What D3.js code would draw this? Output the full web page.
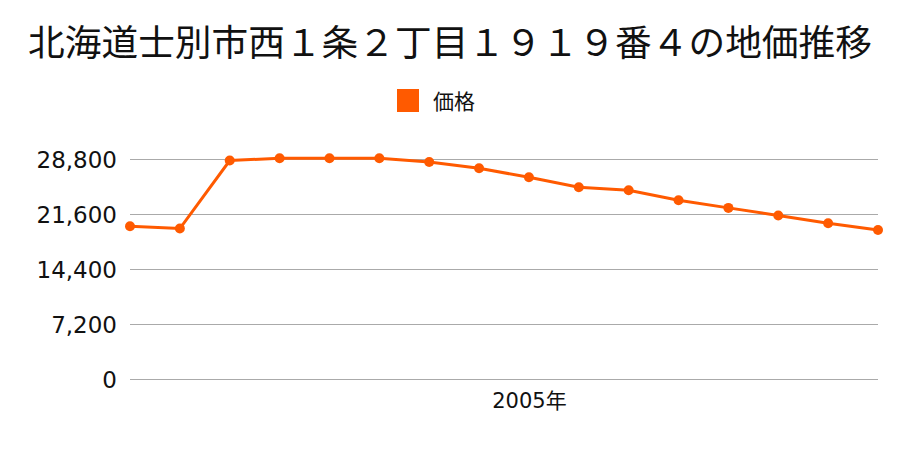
<!DOCTYPE html>
<html>
<head>
<meta charset="utf-8">
<script src="https://cdn.jsdelivr.net/npm/d3@7"></script>
<style>
  body { margin: 0; background: #fff; }
  text { font-family: "DejaVu Sans", "Noto Sans CJK JP", sans-serif; fill: #111; }
  .cjk { font-family: "Noto Sans CJK JP", sans-serif; }
</style>
</head>
<body>
<script>
// data
const years = [1997, 1998, 1999, 2000, 2001, 2002, 2003, 2004, 2005, 2006, 2007, 2008, 2009, 2010, 2011, 2012];
const prices = [20000, 19700, 28600, 28900, 28900, 28900, 28400, 27600, 26400, 25100, 24700, 23400, 22400, 21400, 20400, 19500];
const yTicks = [0, 7200, 14400, 21600, 28800];
const xLabelYears = [2005];
const title = "北海道士別市西１条２丁目１９１９番４の地価推移";
const seriesName = "価格";

const W = 900, H = 450;
const MARGIN = {top: 159, right: 22, bottom: 71, left: 130};
const color = "#ff5a00";

const svg = d3.select("body").append("svg")
    .attr("width", W)
    .attr("height", H);

// title
svg.append("text")
    .attr("class", "cjk")
    .attr("x", W / 2)
    .attr("y", 56)
    .attr("text-anchor", "middle")
    .style("font-size", "36.7px")
    .text(title);

// legend
svg.append("rect")
    .attr("x", 397).attr("y", 89)
    .attr("width", 22).attr("height", 23)
    .attr("fill", color);
svg.append("text")
    .attr("class", "cjk")
    .attr("x", 433).attr("y", 109)
    .style("font-size", "21px")
    .text(seriesName);

const x = d3.scalePoint()
    .domain(years)
    .range([MARGIN.left, W - MARGIN.right]);

const y = d3.scaleLinear()
    .domain([0, 28800])
    .range([H - MARGIN.bottom, MARGIN.top]);

// gridlines + y labels
const yAxis = svg.append("g")
    .attr("transform", `translate(${MARGIN.left},0)`)
    .call(d3.axisLeft(y)
        .tickValues(yTicks)
        .tickSize(-(W - MARGIN.left - MARGIN.right))
        .tickPadding(13)
        .tickFormat(d3.format(",")));
yAxis.select(".domain").remove();
yAxis.selectAll("line").attr("stroke", "#aaa").attr("stroke-width", 1);
yAxis.selectAll("text")
    .style("font-size", "23px")
    .attr("dy", "0.36em");

// x labels
const xAxis = svg.append("g")
    .attr("transform", `translate(0,${H - MARGIN.bottom})`)
    .call(d3.axisBottom(x)
        .tickValues(xLabelYears)
        .tickSize(0)
        .tickPadding(14)
        .tickFormat(d => d + "年"));
xAxis.select(".domain").remove();
xAxis.selectAll("text").style("font-size", "21px");

// line
svg.append("path")
    .datum(prices)
    .attr("fill", "none")
    .attr("stroke", color)
    .attr("stroke-width", 3)
    .attr("d", d3.line()
        .x((d, i) => x(years[i]))
        .y(d => y(d)));

// points
svg.selectAll("circle.pt")
    .data(prices)
    .join("circle")
    .attr("class", "pt")
    .attr("cx", (d, i) => x(years[i]))
    .attr("cy", d => y(d))
    .attr("r", 5)
    .attr("fill", color);
</script>
</body>
</html>
